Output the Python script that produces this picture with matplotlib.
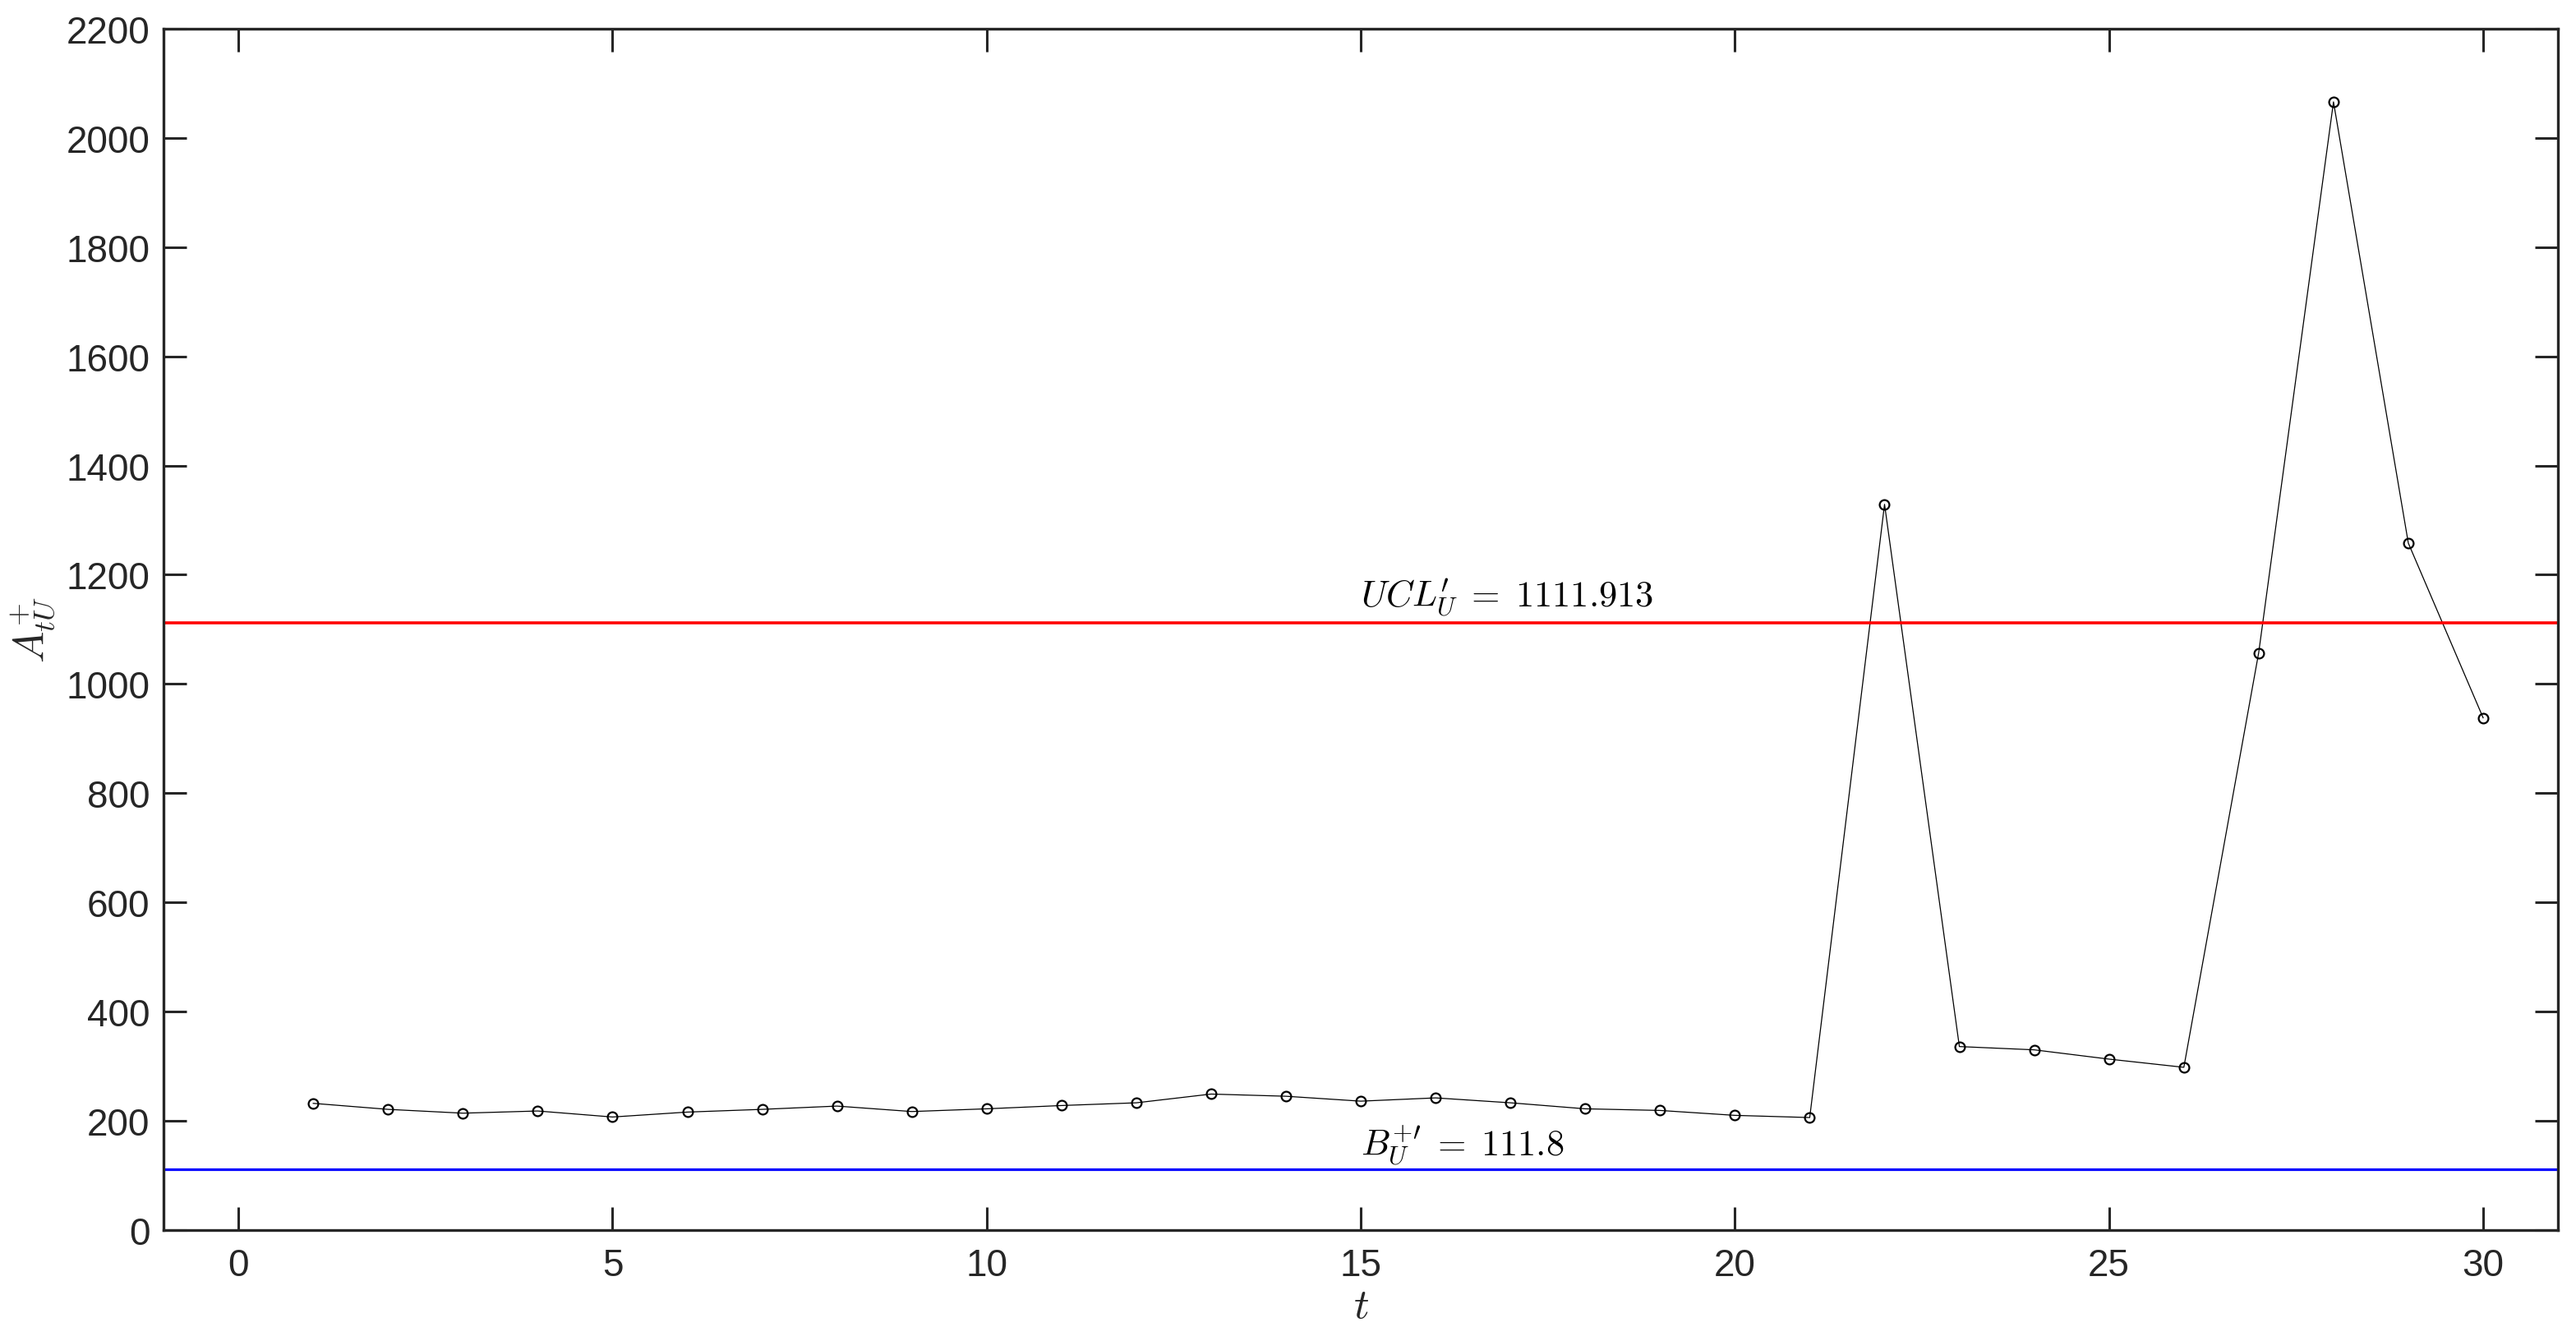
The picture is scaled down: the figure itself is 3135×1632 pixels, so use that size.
import matplotlib
matplotlib.use("Agg")
import matplotlib.pyplot as plt
import numpy as np

t = list(range(1, 31))
A_tU = [232, 221, 214, 218, 207, 216, 221, 227, 217, 222,
        228, 233, 249, 245, 236, 242, 233, 222, 219, 210,
        206, 1329, 336, 330, 313, 298, 1057, 2066, 1258, 938]
UCL = 1111.913
B = 111.8
xticks = [0, 5, 10, 15, 20, 25, 30]
yticks = list(range(0, 2201, 200))

plt.rcParams['mathtext.fontset'] = 'cm'
plt.rcParams['font.family'] = ['Liberation Sans', 'DejaVu Sans']
dark = '#262626'

fig = plt.figure(figsize=(31.35, 16.33), dpi=100)
ax = fig.add_axes([0.0635, 0.0827, 0.9295, 0.8953])

ax.plot(t, A_tU, color='black', linewidth=0.9, marker='o', markersize=8.5,
        markerfacecolor='none', markeredgecolor='black', markeredgewidth=1.6)
ax.axhline(UCL, color=(1, 0, 0), linewidth=2.6)
ax.axhline(B, color=(0, 0, 1), linewidth=2.3)

ax.text(15, UCL + 9, r"$UCL^{\prime}_{U}\;=\;1111.913$", fontsize=32, ha='left', va='bottom', color='black')
ax.text(15, B + 4, r"$B_U^{+\prime}\;=\;111.8$", fontsize=32, ha='left', va='bottom', color='black')

ax.set_xlim(-1, 31)
ax.set_ylim(0, 2200)
ax.set_xticks(xticks)
ax.set_yticks(yticks)
ax.tick_params(axis='both', which='both', direction='in', length=20, width=2.2,
               top=True, right=True, labelsize=33, colors=dark)
ax.tick_params(axis='x', pad=15)
ax.tick_params(axis='y', pad=12)
for s in ax.spines.values():
    s.set_linewidth(2.4)
    s.set_color(dark)

ax.set_xlabel(r"$t$", fontsize=37, color=dark, labelpad=2)
ax.set_ylabel(r"$A_{tU}^{+}$", fontsize=37, color=dark, labelpad=8)

fig.savefig("out.png", dpi=100)
